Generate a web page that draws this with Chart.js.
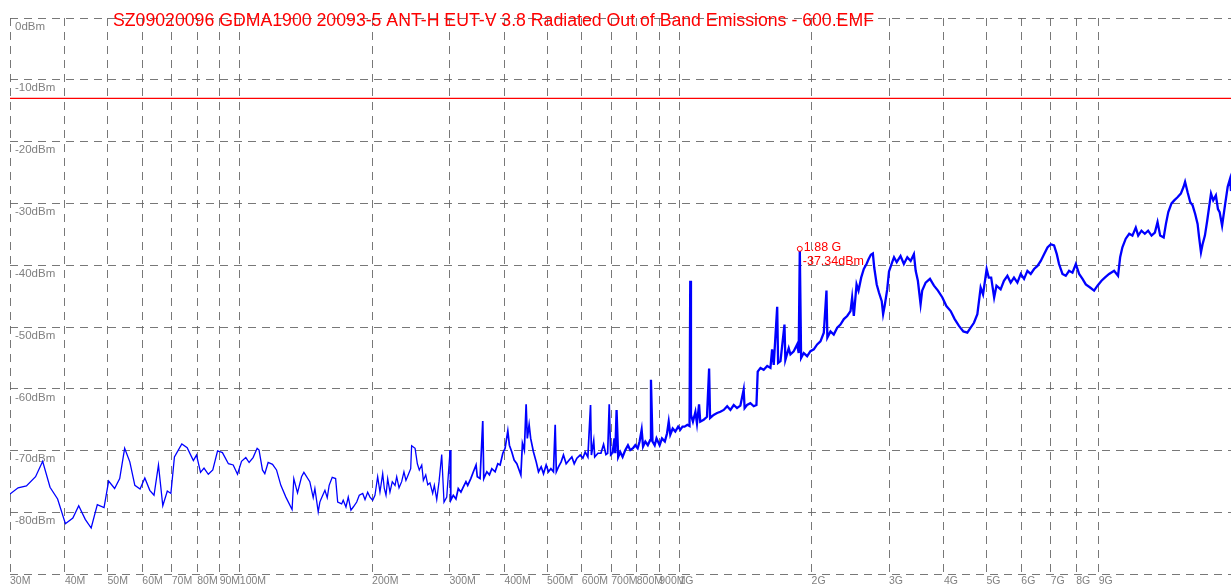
<!DOCTYPE html>
<html lang="en">
<head>
    <meta charset="UTF-8">
    <title>Radiated Out of Band Emissions</title>
    <script src="https://cdn.jsdelivr.net/npm/chart.js"></script>
    <style>
        html, body { margin: 0; padding: 0; background: #fff; }
        #wrap { width: 1231px; height: 587px; position: relative; }
    </style>
</head>
<body>
    <div id="wrap"><canvas id="emfChart"></canvas></div>

    <script>
        const titleText = 'SZ09020096 GDMA1900 20093-5 ANT-H EUT-V 3.8 Radiated Out of Band Emissions - 600.EMF';

        // frequency axis ticks (MHz) and their labels
        const tickFreqMHz = [30, 40, 50, 60, 70, 80, 90, 100, 200, 300, 400, 500, 600, 700, 800, 900,
            1000, 2000, 3000, 4000, 5000, 6000, 7000, 8000, 9000];
        const tickLabels = ['30M', '40M', '50M', '60M', '70M', '80M', '90M', '100M', '200M', '300M', '400M',
            '500M', '600M', '700M', '800M', '900M', '1G', '2G', '3G', '4G', '5G', '6G', '7G', '8G', '9G'];

        // level axis
        const levelMin = -90;
        const levelMax = 0;
        const limitDbm = -13;

        // marker
        const markerFreqMHz = 1880;
        const markerDbm = -37.34;

        // measured trace: frequency (MHz)
        const freqMHz = [
            30, 31.3, 32.7, 34.3, 35.6, 37.0, 38.5, 40.1, 41.7, 43.0, 44.5, 45.9, 47.4, 49.1, 50.3, 51.9,
            53.3, 54.7, 56.2, 57.7, 59.3, 60.8, 62.4, 63.8, 65.3, 66.8, 68.4, 69.7, 71.0, 73.8, 75.9, 78.4,
            79.7, 81.4, 82.9, 84.8, 86.8, 89.0, 91.3, 94.2, 96.6, 98.8, 100.9, 103.2, 105.0, 107.2, 109.5, 110.6,
            112.6, 114.0, 116.0, 118.7, 121.2, 124.0, 127.3, 131.5, 132.7, 135.3, 138.2, 139.9, 144.3, 146.9, 148.2, 150.8,
            152.1, 153.1, 156.2, 158.1, 159.7, 162.3, 165.2, 167.0, 170.5, 171.9, 174.4, 176.5, 179.0, 181.2, 184.5, 187.0,
            190.4, 192.7, 195.4, 197.8, 200.6, 203.0, 205.9, 208.4, 211.4, 213.2, 215.1, 217.0, 219.6, 222.3, 225.5, 227.5,
            230.3, 233.5, 236.3, 238.8, 241.7, 244.8, 246.0, 250.5, 253.5, 256.1, 259.4, 261.6, 264.9, 267.7, 270.8, 274.7,
            277.1, 280.6, 284.0, 288.0, 291.5, 295.7, 300.9, 302.0, 306.0, 310.3, 314.1, 318.5, 322.4, 327.0, 330.0,
            335.4, 340.0, 344.8, 347.0, 352.1, 357.1, 359.0, 364.8, 369.8, 374.5, 381.0, 386.4, 391.1, 396.7, 401.4, 407.2,
            410.6, 415.8, 420.9, 426.9, 432.0, 436.0, 439.6, 444.0, 448.2, 451.0, 455.3, 459.0, 465.8, 472.5, 478.2, 485.0,
            490.9, 497.8, 503.9, 510.3, 517.2, 521.9, 525.0, 531.0, 538.5, 545.0, 552.8, 561.6, 569.5, 576.6, 584.8, 595.0,
            603.4, 610.7, 619.4, 628.1, 631.0, 638.6, 642.0, 652.9, 663.2, 672.4, 680.8, 687.0, 692.7, 698.0, 704.9, 712.0,
            715.0, 719.9, 726.0, 733.9, 743.0, 753.4, 764.1, 773.5, 784.5, 794.1, 804.0, 812.2, 821.0, 827.0, 836.9, 848.0,
            858.0, 862.0, 869.0, 879.0, 887.4, 902.0, 913.3, 927.0, 937.6, 946.0, 953.9, 966.0, 979.2, 994.0, 1005, 1017,
            1028, 1043, 1055, 1059, 1063, 1074, 1088, 1097, 1109,
            1116, 1136, 1156, 1169, 1175, 1197, 1219, 1240, 1262, 1285, 1307, 1330, 1353, 1377, 1401, 1408,
            1426, 1451, 1477, 1498, 1508, 1530, 1556, 1585, 1612, 1626, 1640, 1670, 1678, 1699, 1735, 1743,
            1774, 1790, 1821, 1854, 1869, 1880, 1893, 1919, 1954, 1988, 2023, 2059, 2095, 2132, 2162, 2172,
            2208, 2246, 2287, 2326, 2368, 2410, 2452, 2473, 2495, 2531, 2557, 2593, 2629, 2667, 2697, 2728,
            2757, 2777, 2813, 2846, 2888, 2909, 2932, 2972, 3000, 3051, 3080, 3124,
            3187, 3243, 3302, 3360, 3418, 3450, 3490, 3540, 3570, 3635, 3718, 3797, 3877, 3968, 4052, 4144,
            4232, 4328, 4429, 4522, 4602, 4682, 4766, 4849, 4910, 5004, 5060, 5124, 5204, 5268, 5384, 5478,
            5578, 5675, 5774, 5878, 5982, 6087, 6195, 6304, 6415, 6530, 6644, 6760, 6882, 7000, 7123, 7226,
            7311, 7444, 7574, 7706, 7844, 7983, 8123, 8268, 8412, 8604, 8786, 8944, 9133, 9293, 9504, 9756,
            9960, 10070, 10190, 10370, 10560, 10740, 10930, 11070, 11260, 11460, 11660, 11870, 12080, 12250, 12420, 12650,
            12800, 12960, 13180, 13370, 13600, 13840, 14040, 14150, 14340, 14540, 14720, 14920, 15110, 15230, 15380, 15510,
            15700, 15890, 16210, 16400, 16630, 16810, 16960, 17180, 17440, 17690, 17910, 18000
        ];

        // measured trace: level (dBm)
        const levelDbm = [
            -77.0, -76.0, -75.7, -74.2, -71.7, -75.9, -77.8, -81.8, -80.9, -78.9, -81.1, -82.5, -78.7, -79.2, -74.9, -76.1,
            -74.5, -69.6, -71.8, -75.6, -76.2, -74.4, -76.4, -77.2, -72.3, -78.9, -76.5, -76.9, -71.0, -68.9, -69.5, -71.6,
            -70.7, -73.5, -72.8, -73.8, -73.1, -70.0, -70.3, -72.1, -72.3, -73.8, -71.7, -71.1, -71.9, -71.1, -69.6, -69.9,
            -73.1, -73.7, -71.9, -72.2, -73.1, -75.6, -77.5, -79.5, -74.5, -76.8, -74.2, -73.5, -75.0, -77.6, -76.1, -79.9,
            -78.3, -77.8, -76.4, -77.6, -75.6, -74.3, -74.5, -78.3, -78.6, -78.0, -79.1, -77.5, -79.6, -79.1, -78.3, -77.2,
            -76.9, -77.9, -76.7, -77.5, -78.0, -77.2, -74.2, -76.7, -73.7, -76.1, -77.2, -74.5, -76.7, -75.0, -75.6, -74.2,
            -76.0, -75.0, -73.4, -74.8, -73.9, -72.9, -69.2, -69.6, -72.1, -73.1, -72.3, -74.8, -73.9, -75.5, -75.2, -76.9,
            -75.6, -77.9, -75.0, -70.6, -78.3, -77.5, -69.9, -78.0, -77.2, -77.8, -76.1, -76.7, -75.9, -75.0, -75.6,
            -74.5, -73.4, -72.3, -74.2, -74.5, -65.2, -74.5, -73.4, -73.9, -72.9, -73.4, -72.1, -72.3, -70.4, -69.6, -66.8,
            -69.1, -70.2, -71.5, -72.1, -73.1, -73.9, -68.8, -69.9, -62.5, -68.0, -65.8, -68.0, -70.2, -71.8, -73.4, -72.6,
            -73.7, -72.3, -73.4, -72.9, -73.4, -65.8, -73.4, -72.6, -71.8, -70.7, -72.1, -71.5, -71.0, -72.1, -71.2, -70.7,
            -71.2, -70.2, -71.0, -62.6, -70.7, -68.4, -71.0, -70.4, -70.4, -69.0, -70.6, -70.4, -62.5, -70.7, -70.4, -68.0,
            -70.4, -63.4, -71.0, -70.2, -71.0, -69.9, -69.1, -69.9, -69.6, -69.1, -69.6, -68.5, -66.6, -69.3, -68.5, -69.1,
            -68.3, -58.5, -68.5, -69.1, -68.0, -69.1, -68.0, -68.5, -67.2, -65.3, -67.4, -66.4, -66.9, -66.1, -66.6, -66.1,
            -66.1, -65.8, -66.0, -42.5, -64.2, -65.3, -63.7, -65.6, -62.5,
            -65.3, -65.0, -64.5, -56.7, -64.7, -64.2, -63.9, -63.7, -63.4, -62.8, -63.4, -62.6, -63.1, -62.7, -60.1, -63.1,
            -62.6, -62.3, -62.8, -62.6, -57.2, -56.6, -56.9, -56.3, -56.6, -53.6, -56.1, -46.7, -55.8, -55.5, -49.6, -55.3,
            -53.4, -54.4, -53.9, -52.8, -54.2, -37.34, -55.0, -54.2, -54.7, -53.9, -53.6, -52.8, -52.3, -50.9, -44.1, -51.7,
            -50.7, -51.2, -50.1, -49.6, -48.7, -48.2, -47.4, -45.2, -48.2, -43.1, -44.1, -42.0, -40.6, -39.8, -39.0, -38.3,
            -38.1, -40.4, -43.1, -44.4, -45.8, -47.9, -46.6, -43.9, -41.0, -39.5, -38.7, -39.5,
            -38.5, -39.8, -38.7, -39.3, -38.2, -40.9, -42.5, -46.3, -44.1, -42.8, -42.2, -43.3, -44.1, -45.2, -46.6, -47.4,
            -48.7, -49.8, -50.7, -50.9, -50.1, -49.3, -47.9, -43.6, -44.7, -40.6, -42.0, -42.0, -45.2, -43.3, -43.9, -42.5,
            -41.7, -42.8, -42.0, -42.8, -41.4, -42.2, -40.9, -41.4, -40.6, -40.1, -39.3, -38.2, -37.1, -36.6, -36.8, -38.2,
            -39.8, -41.4, -41.7, -40.9, -41.2, -39.8, -41.4, -42.2, -43.1, -43.6, -44.1, -43.3, -42.5, -42.0, -41.4, -40.9,
            -41.7, -38.7, -37.1, -35.7, -34.9, -35.2, -33.9, -35.2, -34.4, -34.9, -34.4, -35.2, -34.7, -33.0, -35.2, -35.5,
            -33.3, -31.4, -30.0, -29.5, -29.0, -28.4, -27.3, -26.5, -28.2, -29.8, -30.3, -31.7, -33.3, -35.5, -37.9, -36.6,
            -35.2, -32.8, -28.4, -29.5, -28.7, -30.9, -31.4, -33.6, -30.3, -27.3, -26.0, -28.0
        ];

        const fontFamily = '"Liberation Sans", Arial, sans-serif';
        const gridGray = 'rgba(105,105,105,0.9)';

        const tracePoints = freqMHz.map((f, i) => ({ x: f, y: levelDbm[i] }));

        // title and marker readout
        const textPlugin = {
            id: 'emfText',
            afterDatasetsDraw(chart) {
                const c = chart.ctx;
                c.save();
                c.fillStyle = '#ff0000';
                c.textBaseline = 'alphabetic';
                c.textAlign = 'left';
                c.font = '17.7px ' + fontFamily;
                c.fillText(titleText, 113, 25.5);

                const mx = chart.scales.x.getPixelForValue(markerFreqMHz);
                const my = chart.scales.y.getPixelForValue(markerDbm);
                c.font = '12.5px ' + fontFamily;
                c.textBaseline = 'middle';
                c.fillText((markerFreqMHz / 1000).toFixed(2) + ' G', mx + 4, my - 1);
                c.fillText(markerDbm.toFixed(2) + 'dBm', mx + 3, my + 13);
                c.restore();
            }
        };

        const ctx = document.getElementById('emfChart').getContext('2d');
        const chart = new Chart(ctx, {
            type: 'line',
            data: {
                datasets: [
                    {
                        label: 'marker',
                        data: [{ x: markerFreqMHz, y: markerDbm }],
                        showLine: false,
                        pointRadius: 2.5,
                        pointBorderWidth: 1,
                        pointBorderColor: '#ff0000',
                        pointBackgroundColor: '#ffffff',
                        order: 0
                    },
                    {
                        label: 'trace',
                        data: tracePoints,
                        borderColor: '#0000ff',
                        borderWidth: 1.3,
                        pointRadius: 0,
                        tension: 0,
                        segment: {
                            borderWidth: c => {
                                const f = c.p0.parsed.x;
                                return f < 300 ? 1.3 : (f < 700 ? 1.7 : 2.3);
                            }
                        },
                        order: 1
                    },
                    {
                        label: 'limit',
                        data: [{ x: 30, y: limitDbm }, { x: 18000, y: limitDbm }],
                        borderColor: '#ff0000',
                        borderWidth: 1.3,
                        pointRadius: 0,
                        order: 2
                    }
                ]
            },
            options: {
                responsive: true,
                maintainAspectRatio: false,
                animation: false,
                layout: { autoPadding: false, padding: { left: 0, top: 18, right: 0, bottom: 0 } },
                plugins: {
                    legend: { display: false },
                    tooltip: { enabled: false },
                    title: { display: false }
                },
                scales: {
                    x: {
                        type: 'logarithmic',
                        min: 30,
                        max: 18000,
                        afterBuildTicks: scale => {
                            scale.ticks = tickFreqMHz.map(v => ({ value: v }));
                        },
                        ticks: {
                            autoSkip: false,
                            maxRotation: 0,
                            align: 'start',
                            padding: 0,
                            color: '#808080',
                            font: { family: fontFamily, size: 10.5 },
                            callback: (v, i) => tickLabels[i]
                        },
                        grid: { color: gridGray, lineWidth: 1, drawTicks: false },
                        border: { display: false, dash: [8, 6] }
                    },
                    y: {
                        type: 'linear',
                        min: levelMin,
                        max: levelMax,
                        ticks: {
                            stepSize: 10,
                            mirror: true,
                            crossAlign: 'near',
                            padding: 5,
                            labelOffset: 8.5,
                            color: '#808080',
                            font: { family: fontFamily, size: 11.5 },
                            callback: v => (v === levelMin ? '' : v + 'dBm')
                        },
                        grid: { color: gridGray, lineWidth: 1, drawTicks: false },
                        border: { display: false, dash: [8, 6] }
                    }
                }
            },
            plugins: [textPlugin]
        });
    </script>
</body>
</html>
